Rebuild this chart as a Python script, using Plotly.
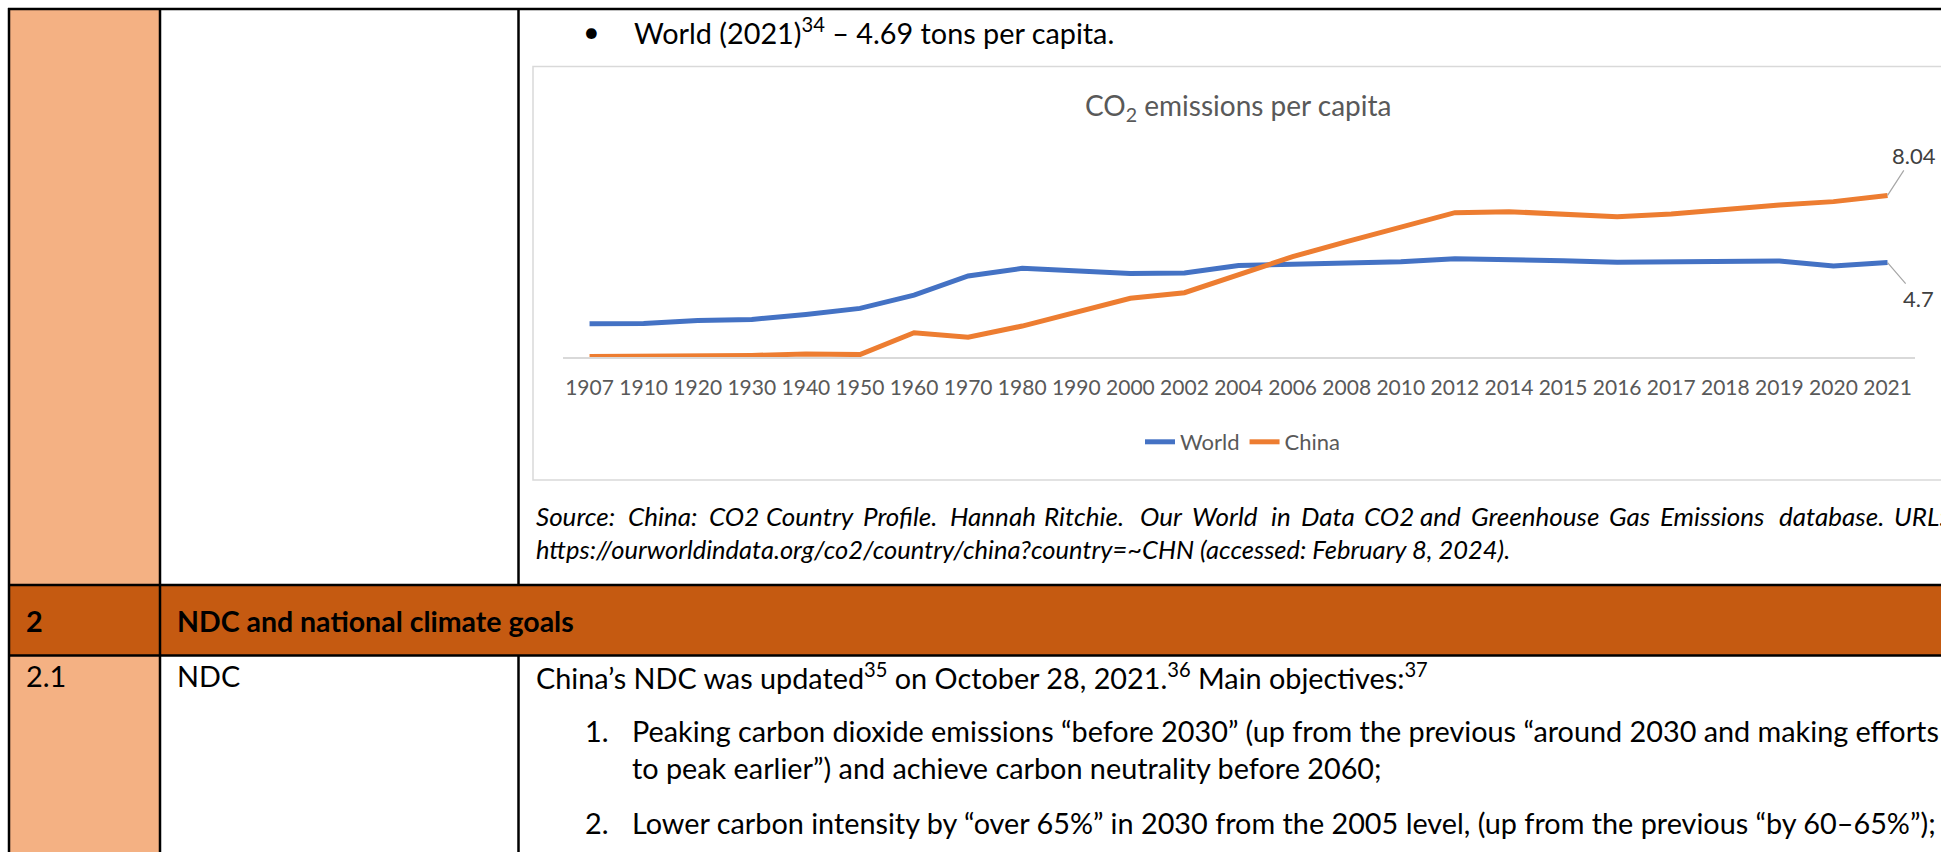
import plotly.graph_objects as go

# ---------------- data ----------------
years = ["1907", "1910", "1920", "1930", "1940", "1950", "1960", "1970", "1980", "1990",
         "2000", "2002", "2004", "2006", "2008", "2010", "2012", "2014", "2015", "2016",
         "2017", "2018", "2019", "2020", "2021"]
world = [1.66, 1.67, 1.82, 1.87, 2.12, 2.42, 3.08, 4.03, 4.41, 4.31,
         4.15, 4.18, 4.55, 4.61, 4.69, 4.74, 4.89, 4.86, 4.79, 4.71,
         4.74, 4.78, 4.78, 4.53, 4.70]
china = [0.02, 0.03, 0.06, 0.08, 0.15, 0.12, 1.21, 0.98, 1.54, 2.21,
         2.92, 3.20, 4.10, 4.99, 5.74, 6.45, 7.18, 7.23, 7.11, 6.98,
         7.11, 7.35, 7.56, 7.73, 8.04]
series_names = ["World", "China"]
chart_title = "CO<sub>2</sub> emissions per capita"

# ---------------- page geometry ----------------
W, H = 1941, 852


def X(px):
    return px / W


def Y(py):
    return 1 - py / H


BLUE = "#4472C4"
ORANGE = "#ED7D31"
GRAY_TXT = "#595959"
BODY_FONT = "Lato"
CHART_FONT = "Lato"
BODY_SIZE = 28.8

fig = go.Figure()
fig.add_trace(go.Scatter(x=years, y=world, name=series_names[0], mode="lines",
                         line=dict(color=BLUE, width=5), cliponaxis=False))
fig.add_trace(go.Scatter(x=years, y=china, name=series_names[1], mode="lines",
                         line=dict(color=ORANGE, width=5), cliponaxis=False))

shapes = []
# table fills
shapes.append(dict(type="rect", xref="paper", yref="paper", x0=X(9), x1=X(160), y0=Y(9), y1=Y(852),
                   fillcolor="#F4B183", line=dict(width=0), layer="below"))
shapes.append(dict(type="rect", xref="paper", yref="paper", x0=X(9), x1=X(1945), y0=Y(585), y1=Y(655.5),
                   fillcolor="#C55A11", line=dict(width=0), layer="below"))
# chart frame
shapes.append(dict(type="rect", xref="paper", yref="paper", x0=X(533), x1=X(1965), y0=Y(66.5), y1=Y(480),
                   fillcolor="rgba(0,0,0,0)", line=dict(color="#D9D9D9", width=1.5), layer="below"))


def hline(y, x0, x1, w=2.5):
    shapes.append(dict(type="line", xref="paper", yref="paper", x0=X(x0), x1=X(x1), y0=Y(y), y1=Y(y),
                       line=dict(color="black", width=w)))


def vline(x, y0, y1, w=2.5):
    shapes.append(dict(type="line", xref="paper", yref="paper", x0=X(x), x1=X(x), y0=Y(y0), y1=Y(y1),
                       line=dict(color="black", width=w)))


hline(9, 8, 1945)
hline(585, 8, 1945)
hline(655.5, 8, 1945)
vline(9, 8, 860)
vline(160, 8, 860)
vline(518.5, 8, 585)
vline(518.5, 655.5, 860)

ann = []


def txt(s, x, y, size=BODY_SIZE, color="black", family=BODY_FONT, anchor="left"):
    ann.append(dict(text=s, x=X(x), y=Y(y), xref="paper", yref="paper", xanchor=anchor, yanchor="middle",
                    showarrow=False, font=dict(size=size, color=color, family=family)))


# top bullet line
txt("•", 581, 31)
txt("World (2021)<sup>34</sup> – 4.69 tons per capita.", 632, 31)

# source (justified line reproduced word by word)
src_line1 = [("Source:", 534), ("China:", 626), ("CO2", 707), ("Country", 764), ("Profile.", 861),
             ("Hannah", 948), ("Ritchie.", 1042), ("Our", 1138), ("World", 1190), ("in", 1269),
             ("Data", 1299), ("CO2", 1362), ("and", 1418), ("Greenhouse", 1469), ("Gas", 1607),
             ("Emissions", 1658), ("database.", 1777), ("URL:", 1892)]
for wd, xx in src_line1:
    txt("<i>" + wd + "</i>", xx, 516, size=26)
txt("<i>https://ourworldindata.org/co2/country/china?country=~CHN (accessed: February 8, 2024).</i>",
    534, 549, size=25.5)

# header row
txt("<b>2</b>", 24, 621)
txt("<b>NDC and national climate goals</b>", 175, 621, size=28.5)

# row 2.1
txt("2.1", 24, 676)
txt("NDC", 175, 676)
txt("China’s NDC was updated<sup>35</sup> on October 28, 2021.<sup>36</sup> Main objectives:<sup>37</sup>", 534, 676)
txt("1.", 583, 731)
txt("Peaking carbon dioxide emissions “before 2030” (up from the previous “around 2030 and making efforts",
    630, 731)
txt("to peak earlier”) and achieve carbon neutrality before 2060;", 630, 768)
txt("2.", 583, 823)
txt("Lower carbon intensity by “over 65%” in 2030 from the 2005 level, (up from the previous “by 60–65%”);",
    630, 823)

# chart title
txt(chart_title, 1238, 107, size=28, color=GRAY_TXT, family=CHART_FONT, anchor="center")

# data labels for last points (x given as category index)
last = len(years) - 1
ann.append(dict(x=last, y=china[-1], xref="x", yref="y", text=f"{china[-1]:g}",
                showarrow=True, arrowhead=0, arrowwidth=1.2, arrowcolor="#A6A6A6", ax=26, ay=-40,
                font=dict(size=22, color="#404040", family=CHART_FONT)))
ann.append(dict(x=last, y=world[-1], xref="x", yref="y", text=f"{world[-1]:g}",
                showarrow=True, arrowhead=0, arrowwidth=1.2, arrowcolor="#A6A6A6", ax=31, ay=36,
                font=dict(size=22, color="#404040", family=CHART_FONT)))

fig.update_layout(
    width=W, height=H, autosize=False,
    margin=dict(l=0, r=0, t=0, b=0, pad=0),
    paper_bgcolor="white", plot_bgcolor="white",
    shapes=shapes, annotations=ann,
    showlegend=True,
    legend=dict(orientation="h", x=X(1243), xanchor="center", y=Y(442), yanchor="middle",
                font=dict(size=22, color=GRAY_TXT, family=CHART_FONT),
                bgcolor="rgba(0,0,0,0)", itemwidth=30),
    xaxis=dict(domain=[X(562.5), X(1914.6)], type="category", range=[-0.5, len(years) - 0.5],
               showgrid=False, zeroline=False,
               showline=True, linecolor="#D9D9D9", linewidth=1.5, ticks="", tickangle=0,
               ticklabelstandoff=11,
               tickfont=dict(size=21, color=GRAY_TXT, family=CHART_FONT), fixedrange=True),
    yaxis=dict(domain=[Y(357), Y(176.1)], range=[0, 9], showgrid=False, zeroline=False,
               showline=False, showticklabels=False, fixedrange=True),
)

fig.write_html("out.html")
